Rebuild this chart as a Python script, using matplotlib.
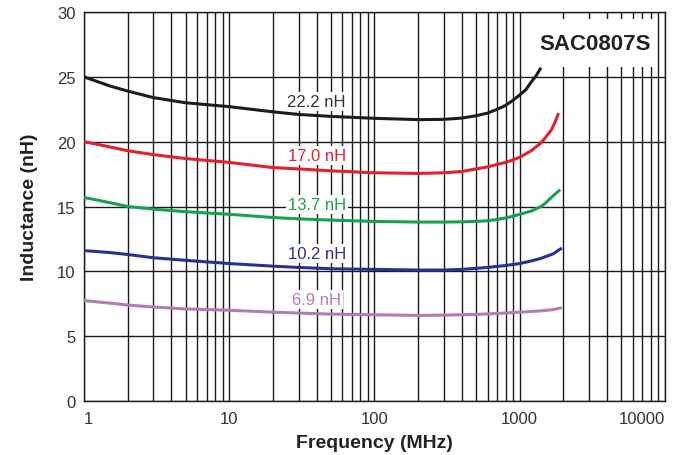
import matplotlib
matplotlib.use("Agg")
import matplotlib.pyplot as plt
from matplotlib.patches import Rectangle
from matplotlib.ticker import FixedLocator, LogLocator, NullFormatter

plt.rcParams['font.family'] = ['Liberation Sans', 'DejaVu Sans']

# valeurs (MHz, nH)
f_222 = [1, 1.5, 2, 3, 5, 10, 20, 30, 50, 100, 200, 300, 400, 500, 600, 700, 800, 900, 1000, 1100, 1200, 1300, 1400]
L_222 = [25.0, 24.3, 23.9, 23.4, 23.0, 22.7, 22.3, 22.1, 21.95, 21.8, 21.7, 21.72, 21.82, 22.0, 22.2, 22.5, 22.8, 23.2, 23.6, 24.0, 24.6, 25.1, 25.7]

f_170 = [1, 1.5, 2, 3, 5, 10, 20, 30, 50, 100, 200, 300, 400, 500, 600, 700, 800, 900, 1000, 1200, 1400, 1500, 1650, 1750, 1850]
L_170 = [20.0, 19.6, 19.3, 19.0, 18.7, 18.4, 18.0, 17.9, 17.75, 17.6, 17.55, 17.6, 17.7, 17.9, 18.05, 18.25, 18.4, 18.6, 18.8, 19.3, 19.9, 20.3, 20.9, 21.5, 22.2]

f_137 = [1, 1.5, 2, 3, 5, 10, 20, 30, 50, 100, 200, 300, 400, 500, 600, 700, 800, 900, 1000, 1200, 1400, 1500, 1650, 1750, 1900]
L_137 = [15.7, 15.3, 15.0, 14.8, 14.6, 14.4, 14.15, 14.05, 13.95, 13.85, 13.8, 13.8, 13.82, 13.85, 13.9, 14.0, 14.12, 14.25, 14.4, 14.65, 15.0, 15.25, 15.7, 15.95, 16.3]

f_102 = [1, 1.5, 2, 3, 5, 10, 20, 30, 50, 100, 200, 300, 400, 600, 800, 1000, 1200, 1400, 1700, 1950]
L_102 = [11.6, 11.45, 11.3, 11.05, 10.85, 10.6, 10.4, 10.3, 10.2, 10.15, 10.1, 10.1, 10.15, 10.3, 10.45, 10.6, 10.8, 11.0, 11.35, 11.8]

f_69 = [1, 1.5, 2, 3, 5, 10, 20, 50, 100, 200, 300, 500, 700, 1000, 1400, 1700, 1950]
L_69 = [7.75, 7.55, 7.4, 7.25, 7.1, 7.0, 6.85, 6.7, 6.65, 6.6, 6.62, 6.68, 6.75, 6.85, 6.95, 7.05, 7.2]

series = [
    (f_222, L_222, '#1c1c1c', '22.2 nH', 23.1, '#333333'),
    (f_170, L_170, '#e5202e', '17.0 nH', 18.9, '#e5202e'),
    (f_137, L_137, '#17a04e', '13.7 nH', 15.15, '#17a04e'),
    (f_102, L_102, '#2b2f8f', '10.2 nH', 11.4, '#2b2f8f'),
    (f_69, L_69, '#b27db2', '6.9 nH', 7.85, '#b27db2'),
]

x_ticks = [1, 10, 100, 1000, 10000]
y_ticks = [0, 5, 10, 15, 20, 25, 30]

fig = plt.figure(figsize=(6.84, 4.56), dpi=100)
ax = fig.add_axes([0.1228, 0.1184, 0.8494, 0.8531])

for f, L, c, lab, ly, tc in series:
    ax.plot(f, L, color=c, lw=2.2, solid_capstyle='butt', solid_joinstyle='round', zorder=4)
    ax.text(40, ly, lab, color=tc, fontsize=12, ha='center', va='center', zorder=5,
            bbox=dict(boxstyle='square,pad=0.12', fc='white', ec='none'))

ax.set_xscale('log')
ax.set_xlim(1, 10000)
ax.set_ylim(0, 30)
ax.xaxis.set_major_locator(FixedLocator(x_ticks))
ax.xaxis.set_minor_locator(LogLocator(base=10, subs=range(2, 10)))
ax.xaxis.set_minor_formatter(NullFormatter())
ax.set_xticks(x_ticks)
ax.set_xticklabels([str(v) for v in x_ticks])
ax.set_yticks(y_ticks)
ax.tick_params(which='both', length=0, labelsize=12, labelcolor='#333333')
ax.tick_params(axis='x', pad=7)
ax.tick_params(axis='y', pad=6)
# premier et dernier libellés rentrés dans le cadre
xl = ax.get_xticklabels()
xl[0].set_horizontalalignment('left')
xl[-1].set_horizontalalignment('right')

ax.grid(which='both', color='#1a1a1a', lw=1.0)
for sp in ax.spines.values():
    sp.set_color('#1a1a1a')
    sp.set_linewidth(1.0)

# cadre blanc du titre
ax.add_patch(Rectangle((0.755, 0.859), 0.229, 0.123, transform=ax.transAxes,
                       fc='white', ec='none', zorder=2.5))
ax.text(0.879, 0.92, 'SAC0807S', transform=ax.transAxes, fontsize=16, fontweight='bold',
        color='#222222', ha='center', va='center', zorder=6)

ax.set_xlabel('Frequency (MHz)', fontsize=14, fontweight='bold', color='#222222', labelpad=6)
ax.set_ylabel('Inductance (nH)', fontsize=14, fontweight='bold', color='#222222', labelpad=14)

fig.savefig('out.png', dpi=100)
